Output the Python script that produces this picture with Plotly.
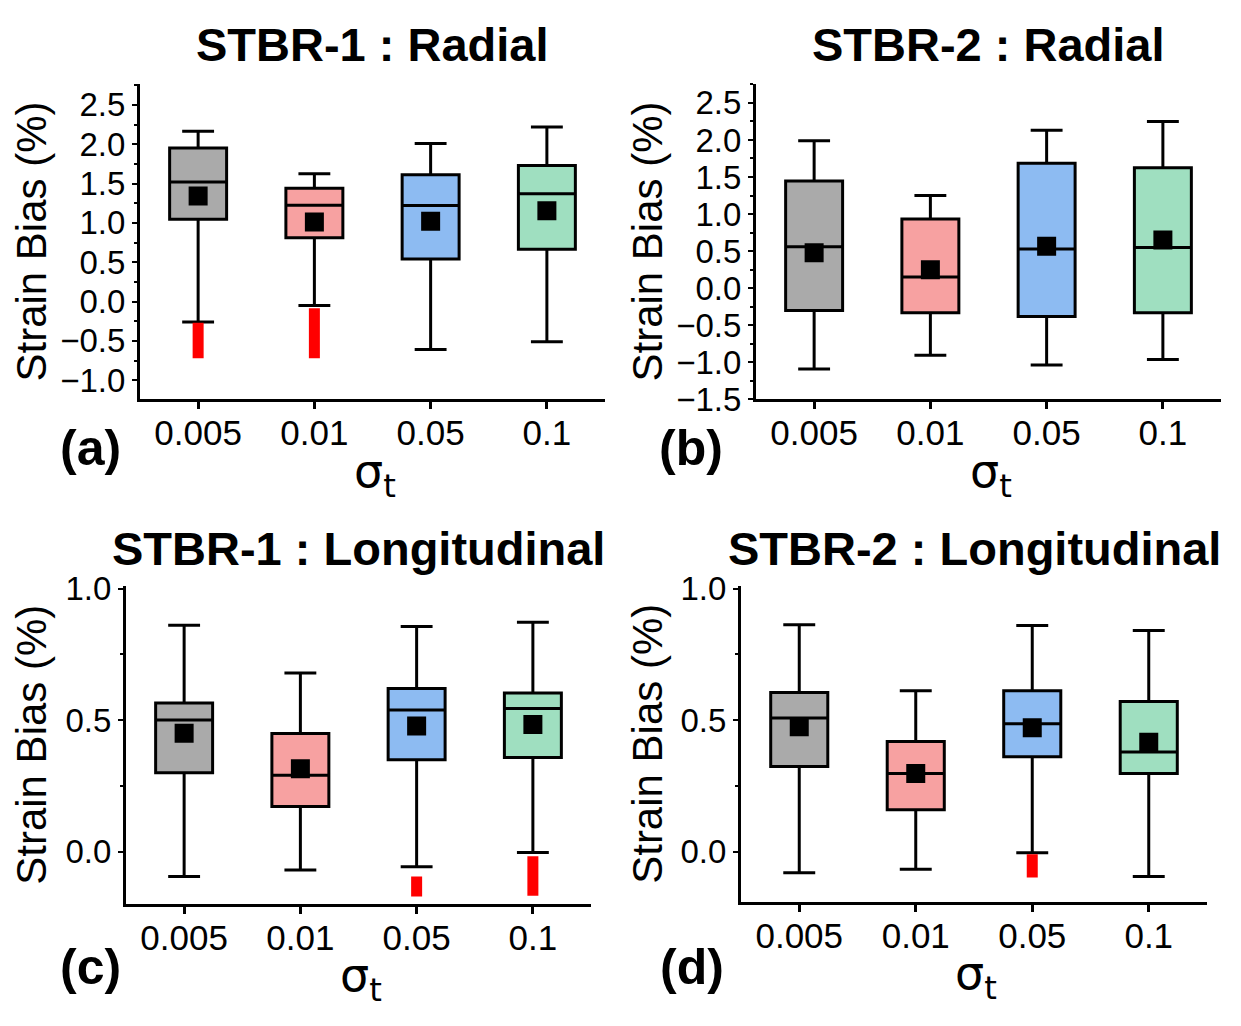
import plotly.graph_objects as go

W, H = 1241, 1026

cats = ["0.005", "0.01", "0.05", "0.1"]
pos = [0, 1, 2, 3]
colors = ["#aaaaaa", "#f7a1a1", "#8dbbf2", "#9fdfc0"]

# Panel (a) STBR-1 Radial
a_q1 = [1.045, 0.81, 0.54, 0.665]
a_med = [1.52, 1.225, 1.22, 1.37]
a_q3 = [1.95, 1.44, 1.61, 1.73]
a_lo = [-0.26, -0.05, -0.61, -0.51]
a_hi = [2.165, 1.625, 2.01, 2.22]
a_mean = [1.34, 1.01, 1.02, 1.155]
a_red_x = [0, 1]
a_red_top = [-0.27, -0.085]
a_red_bot = [-0.72, -0.72]

# Panel (b) STBR-2 Radial
b_q1 = [-0.30, -0.33, -0.38, -0.33]
b_med = [0.56, 0.15, 0.53, 0.55]
b_q3 = [1.445, 0.935, 1.685, 1.625]
b_lo = [-1.09, -0.905, -1.035, -0.96]
b_hi = [1.99, 1.25, 2.13, 2.25]
b_mean = [0.48, 0.25, 0.565, 0.65]
b_red_x = []
b_red_top = []
b_red_bot = []

# Panel (c) STBR-1 Longitudinal
c_q1 = [0.30, 0.171, 0.349, 0.358]
c_med = [0.50, 0.29, 0.538, 0.544]
c_q3 = [0.565, 0.449, 0.62, 0.603]
c_lo = [-0.095, -0.07, -0.058, -0.004]
c_hi = [0.86, 0.679, 0.856, 0.872]
c_mean = [0.45, 0.315, 0.477, 0.483]
c_red_x = [2, 3]
c_red_top = [-0.095, -0.018]
c_red_bot = [-0.171, -0.168]

# Panel (d) STBR-2 Longitudinal
d_q1 = [0.324, 0.159, 0.361, 0.297]
d_med = [0.508, 0.297, 0.486, 0.379]
d_q3 = [0.605, 0.419, 0.612, 0.571]
d_lo = [-0.08, -0.067, -0.004, -0.094]
d_hi = [0.862, 0.612, 0.859, 0.84]
d_mean = [0.475, 0.297, 0.471, 0.416]
d_red_x = [2]
d_red_top = [-0.01]
d_red_bot = [-0.098]

titles = ["STBR-1 : Radial", "STBR-2 : Radial", "STBR-1 : Longitudinal", "STBR-2 : Longitudinal"]
tags = ["(a)", "(b)", "(c)", "(d)"]
ytitle = "Strain Bias (%)"
xtitle = "σ<sub>t</sub>"

def px(x):
    return x / W

def py(y):
    return 1 - y / H

# pixel boxes of plot areas: (x0, x1, ytop, ybottom)
areas = [(140, 605, 70, 397), (756, 1221, 70, 397), (126, 591, 590, 919), (741, 1207, 590, 917)]
yranges = [[-1.245, 2.77], [-1.5, 2.76], [-0.198, 1.01], [-0.19, 1.01]]
ytitle_x = [32, 648, 32, 648]
title_y = [30, 30, 551, 551]
sigma_y = [475, 475, 996, 994]
tag_xy = [(90, 447), (691, 447), (90, 985), (692, 985)]

panels = [
    (a_q1, a_med, a_q3, a_lo, a_hi, a_mean, a_red_x, a_red_top, a_red_bot),
    (b_q1, b_med, b_q3, b_lo, b_hi, b_mean, b_red_x, b_red_top, b_red_bot),
    (c_q1, c_med, c_q3, c_lo, c_hi, c_mean, c_red_x, c_red_top, c_red_bot),
    (d_q1, d_med, d_q3, d_lo, d_hi, d_mean, d_red_x, d_red_top, d_red_bot),
]

fig = go.Figure()
layout = dict(
    width=W, height=H, margin=dict(l=0, r=0, t=0, b=0),
    paper_bgcolor="white", plot_bgcolor="white", showlegend=False,
    font=dict(family="Liberation Sans, Arial, sans-serif", color="black"),
)
annotations = []

for k, (q1, med, q3, lo, hi, mean, rx, rtop, rbot) in enumerate(panels):
    xa = "x" if k == 0 else f"x{k+1}"
    ya = "y" if k == 0 else f"y{k+1}"
    xname = "xaxis" if k == 0 else f"xaxis{k+1}"
    yname = "yaxis" if k == 0 else f"yaxis{k+1}"
    for i in range(4):
        fig.add_trace(go.Box(
            x=[pos[i]], q1=[q1[i]], median=[med[i]], q3=[q3[i]],
            lowerfence=[lo[i]], upperfence=[hi[i]],
            width=0.49, whiskerwidth=0.56, fillcolor=colors[i],
            line=dict(color="black", width=3), boxpoints=False,
            xaxis=xa, yaxis=ya, hoverinfo="skip",
        ))
    if rx:
        xs, ys = [], []
        for j in range(len(rx)):
            xs += [rx[j], rx[j], None]
            ys += [rtop[j], rbot[j], None]
        fig.add_trace(go.Scatter(x=xs, y=ys, mode="lines",
                                 line=dict(color="#ff0000", width=11),
                                 xaxis=xa, yaxis=ya, hoverinfo="skip"))
    fig.add_trace(go.Scatter(x=pos, y=mean, mode="markers",
                             marker=dict(symbol="square", size=19, color="black"),
                             xaxis=xa, yaxis=ya, hoverinfo="skip"))

    x0, x1, yt, yb = areas[k]
    layout[xname] = dict(
        domain=[px(x0), px(x1)], range=[-0.5, 3.5], anchor=ya,
        tickvals=pos, ticktext=cats, showline=True, linecolor="black", linewidth=3,
        ticks="outside", ticklen=7, tickwidth=3, tickcolor="black",
        ticklabelstandoff=-6,
        tickfont=dict(size=35), showgrid=False, zeroline=False, fixedrange=True,
    )
    layout[yname] = dict(
        domain=[py(yb), py(yt)], range=yranges[k], anchor=xa,
        dtick=0.5, tick0=0, tickformat=".1f",
        showline=True, linecolor="black", linewidth=3,
        ticks="outside", ticklen=5, tickwidth=2, tickcolor="black",
        minor=dict(dtick=0.25, ticks="outside", ticklen=3, tickwidth=1.5, tickcolor="black"),
        tickfont=dict(size=33), showgrid=False, zeroline=False, fixedrange=True,
    )
    cx = (x0 + x1) / 2
    annotations.append(dict(text=f"<b>{titles[k]}</b>", x=px(cx), y=py(title_y[k]),
                            xref="paper", yref="paper", showarrow=False,
                            xanchor="center", yanchor="middle", font=dict(size=47)))
    annotations.append(dict(text=ytitle, x=px(ytitle_x[k]), y=py((yt + yb) / 2),
                            xref="paper", yref="paper", showarrow=False, textangle=-90,
                            xanchor="center", yanchor="middle", font=dict(size=42)))
    annotations.append(dict(text=xtitle, x=px(cx + 2), y=py(sigma_y[k]),
                            xref="paper", yref="paper", showarrow=False,
                            xanchor="center", yanchor="middle",
                            font=dict(size=46, family="DejaVu Sans, Liberation Sans, sans-serif")))
    tx, ty = tag_xy[k]
    annotations.append(dict(text=f"<b>{tags[k]}</b>", x=px(tx), y=py(ty),
                            xref="paper", yref="paper", showarrow=False,
                            xanchor="center", yanchor="middle", font=dict(size=50)))

layout["annotations"] = annotations
fig.update_layout(**layout)
fig.write_html("out.html")
